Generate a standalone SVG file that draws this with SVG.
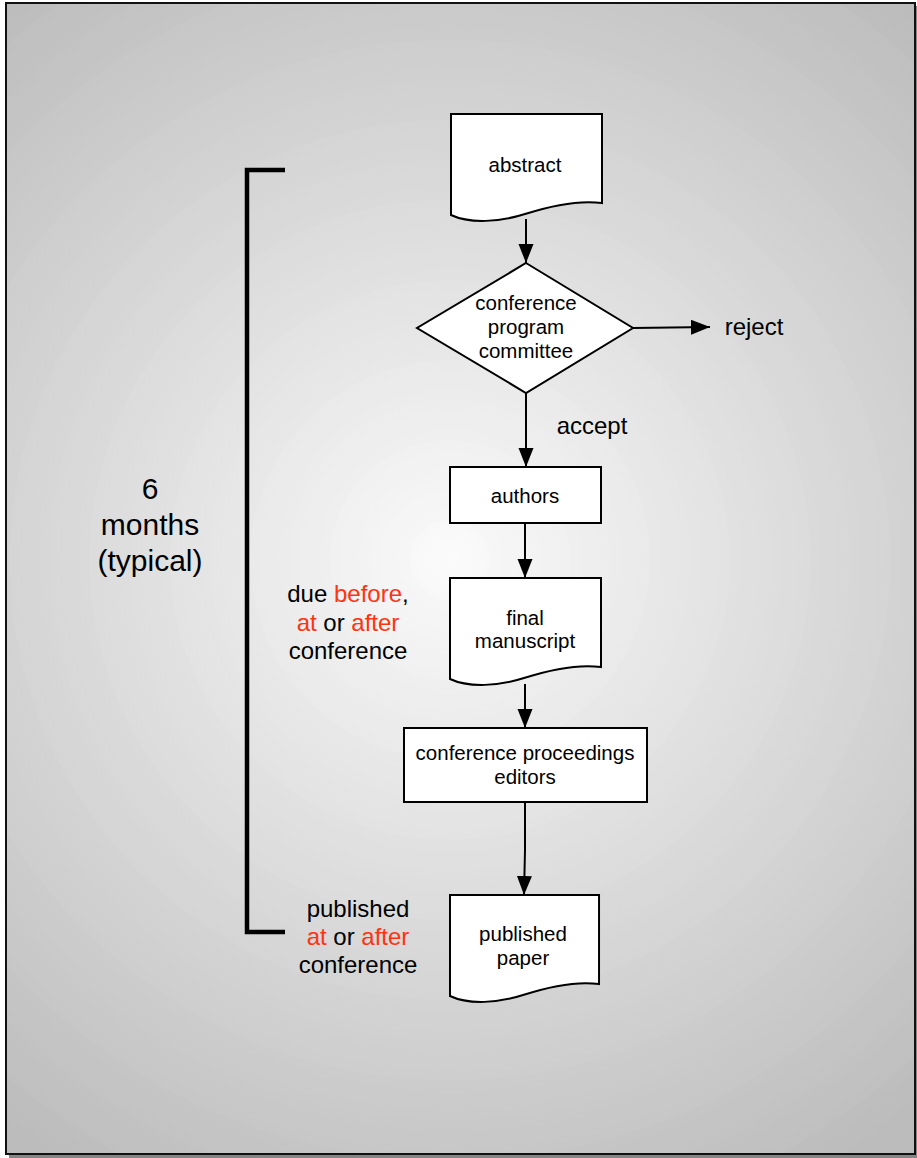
<svg xmlns="http://www.w3.org/2000/svg" width="917" height="1158" viewBox="0 0 917 1158">
<defs>
<radialGradient id="bg" gradientUnits="userSpaceOnUse" cx="450" cy="560" r="720">
<stop offset="0" stop-color="#fbfbfb"/><stop offset="0.055" stop-color="#f8f8f8"/>
<stop offset="0.056" stop-color="#f6f6f6"/><stop offset="0.111" stop-color="#f4f4f4"/>
<stop offset="0.112" stop-color="#f3f3f3"/><stop offset="0.166" stop-color="#f1f1f1"/>
<stop offset="0.167" stop-color="#efefef"/><stop offset="0.222" stop-color="#ededed"/>
<stop offset="0.223" stop-color="#ececec"/><stop offset="0.277" stop-color="#eaeaea"/>
<stop offset="0.278" stop-color="#e8e8e8"/><stop offset="0.333" stop-color="#e6e6e6"/>
<stop offset="0.334" stop-color="#e5e5e5"/><stop offset="0.388" stop-color="#e3e3e3"/>
<stop offset="0.389" stop-color="#e1e1e1"/><stop offset="0.444" stop-color="#dfdfdf"/>
<stop offset="0.445" stop-color="#dedede"/><stop offset="0.5" stop-color="#dcdcdc"/>
<stop offset="0.501" stop-color="#dadada"/><stop offset="0.555" stop-color="#d8d8d8"/>
<stop offset="0.556" stop-color="#d7d7d7"/><stop offset="0.611" stop-color="#d5d5d5"/>
<stop offset="0.612" stop-color="#d3d3d3"/><stop offset="0.666" stop-color="#d1d1d1"/>
<stop offset="0.667" stop-color="#d0d0d0"/><stop offset="0.722" stop-color="#cecece"/>
<stop offset="0.723" stop-color="#cccccc"/><stop offset="0.777" stop-color="#cacaca"/>
<stop offset="0.778" stop-color="#c9c9c9"/><stop offset="0.833" stop-color="#c7c7c7"/>
<stop offset="0.834" stop-color="#c5c5c5"/><stop offset="0.888" stop-color="#c3c3c3"/>
<stop offset="0.889" stop-color="#c2c2c2"/><stop offset="0.944" stop-color="#c0c0c0"/>
<stop offset="0.945" stop-color="#bebebe"/><stop offset="1" stop-color="#bcbcbc"/>
</radialGradient>
<marker id="arrow" markerUnits="userSpaceOnUse" markerWidth="22" markerHeight="18" refX="19" refY="7.5" orient="auto">
<path d="M0,0 L19,7.5 L0,15 Z" fill="#000"/>
</marker>
<path id="doc" d="M0,0 H151 V89 C129,86 99,92 74,100 C49,108 19,110 0,101 Z"/>
</defs>
<style>
.shape{fill:#fff;stroke:#000;stroke-width:2}
.t{font-family:"Liberation Sans",Arial,sans-serif;fill:#000;text-anchor:middle}
.n{font-size:20.5px}
.l{font-size:24px}
.big{font-size:30px}
.red{fill:#ff3311}
.conn{fill:none;stroke:#000;stroke-width:2;marker-end:url(#arrow)}
</style>
<g id="frame">
<rect x="9" y="6" width="908" height="1152" fill="#333" opacity="0.6"/>
<rect x="6" y="3" width="909" height="1151" fill="url(#bg)" stroke="#111" stroke-width="2"/>
</g>
<g id="bracket">
<path d="M285,170 H247 V932 H285" fill="none" stroke="#000" stroke-width="4.5"/>
<text class="t big" x="150" y="499">6</text>
<text class="t big" x="150" y="535">months</text>
<text class="t big" x="150" y="571">(typical)</text>
</g>
<g id="connectors">
<path class="conn" d="M526,219 V263"/>
<path class="conn" d="M633,328 L710,327"/>
<path class="conn" d="M526,393 V467"/>
<path class="conn" d="M525,523 V578"/>
<path class="conn" d="M525,684 V728"/>
<path class="conn" d="M525,802 V850 L524,895"/>
</g>
<g id="abstract">
<use href="#doc" class="shape" transform="translate(451,114)"/>
<text class="t n" x="525" y="172">abstract</text>
</g>
<g id="committee">
<path class="shape" d="M526,263 L633,328 L526,393 L417,328 Z"/>
<text class="t n" x="526" y="310">conference</text>
<text class="t n" x="526" y="334">program</text>
<text class="t n" x="526" y="358">committee</text>
</g>
<g id="reject">
<text class="t l" x="754" y="335">reject</text>
</g>
<g id="accept">
<text class="t l" x="592" y="434">accept</text>
</g>
<g id="authors">
<rect class="shape" x="450" y="467" width="151" height="56"/>
<text class="t n" x="525" y="503">authors</text>
</g>
<g id="manuscript">
<use href="#doc" class="shape" transform="translate(450,578)"/>
<text class="t n" x="525" y="625">final</text>
<text class="t n" x="525" y="648">manuscript</text>
</g>
<g id="due-note">
<text class="t l" x="348" y="602">due <tspan class="red">before</tspan>,</text>
<text class="t l" x="348" y="631"><tspan class="red">at</tspan> or <tspan class="red">after</tspan></text>
<text class="t l" x="348" y="659">conference</text>
</g>
<g id="editors">
<rect class="shape" x="404" y="728" width="243" height="74"/>
<text class="t n" x="525" y="760">conference proceedings</text>
<text class="t n" x="525" y="784">editors</text>
</g>
<g id="published">
<use href="#doc" class="shape" transform="translate(450,895) scale(0.987,1)"/>
<text class="t n" x="523" y="941">published</text>
<text class="t n" x="523" y="965">paper</text>
</g>
<g id="published-note">
<text class="t l" x="358" y="917">published</text>
<text class="t l" x="358" y="945"><tspan class="red">at</tspan> or <tspan class="red">after</tspan></text>
<text class="t l" x="358" y="973">conference</text>
</g>
</svg>
